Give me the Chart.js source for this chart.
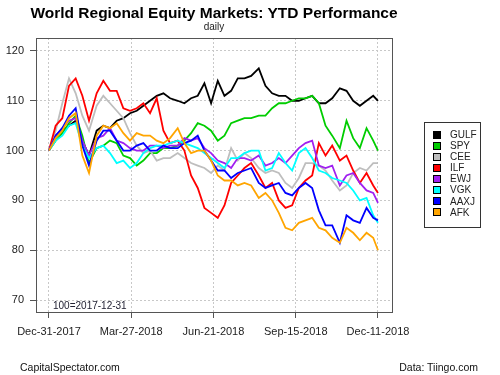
<!DOCTYPE html>
<html>
<head>
<meta charset="utf-8">
<script src="https://cdn.jsdelivr.net/npm/chart.js@4.4.1/dist/chart.umd.min.js"></script>
<style>
  body { margin: 0; background: #fff; font-family: "Liberation Sans", Arial, sans-serif; }
  #wrap { position: relative; width: 500px; height: 375px; }
  #chart { position: absolute; left: 0; top: 0; }
  .title { position: absolute; left: 0; width: 428px; top: 4px; text-align: center; white-space: nowrap; font-weight: bold; font-size: 15.5px; color: #000; }
  .sub { position: absolute; left: 0; width: 428px; top: 21px; text-align: center; font-size: 10px; color: #222; }
  .base { position: absolute; left: 53px; top: 300px; font-size: 10px; color: #223; }
  .foot { position: absolute; top: 361px; font-size: 10.5px; color: #111; }
  #legend { position: absolute; left: 424px; top: 122px; width: 57px; height: 106px; border: 1px solid #333; box-sizing: border-box; padding-top: 6px; }
  #legend div { position: relative; height: 11.1px; line-height: 11.1px; font-size: 10px; color: #222; }
  #legend span.sq { position: absolute; left: 8px; top: 1.5px; width: 6px; height: 6px; border: 1px solid #000; }
  #legend span.lb { position: absolute; left: 25px; top: 0; }
</style>
</head>
<body>
<div id="wrap">
  <canvas id="chart" width="500" height="375"></canvas>
  <div class="title">World Regional Equity Markets: YTD Performance</div>
  <div class="sub">daily</div>
  <div class="base">100=2017-12-31</div>
  <div id="legend"></div>
  <div class="foot" style="left:20px">CapitalSpectator.com</div>
  <div class="foot" style="right:22px">Data: Tiingo.com</div>
</div>
<script>
// days since 2017-12-31 (about one point per week)
const days = [0, 7, 14, 21, 28, 35, 42, 50, 57, 64, 71, 78, 85, 92, 99, 106, 113, 120, 127, 135,
  142, 149, 156, 163, 170, 177, 184, 191, 198, 205, 212, 220, 227, 234, 241, 248, 255, 262, 269, 276,
  283, 290, 297, 305, 312, 319, 326, 333, 340, 345];

const gulf = [100, 103, 104, 105, 106, 102, 99, 104, 105, 104.5, 106, 106.5, 107.5, 108, 109, 110, 111, 111.5, 110.5, 110,
  109.5, 110.5, 111, 113.5, 109.5, 114, 111, 112, 114.5, 114.5, 115, 116.5, 113, 111.5, 111, 111, 110, 110, 110.5, 111,
  109.5, 109.5, 110.5, 112.5, 112, 110, 109, 110, 111, 110];
const spy = [100, 102, 103.5, 105.5, 107, 103, 97.5, 100.5, 101, 102, 101.5, 99, 98.5, 97, 98, 99.5, 99.5, 100.5, 100.5, 101,
  102, 103.5, 105.5, 105, 104, 102, 103, 105.5, 106, 106.5, 106.5, 107, 107, 108.5, 109.5, 109.5, 110, 110.5, 110.5, 111,
  109.5, 105, 103, 100.5, 106, 102.5, 100.5, 104.5, 102, 100];
const cee = [100, 104, 109.5, 114.5, 111.5, 107, 104, 109, 111, 109.5, 108, 106.5, 103.5, 101, 99.5, 100, 98, 98.5, 98.5, 99.5,
  98.5, 97.5, 97, 96.5, 95.5, 97, 96, 100.5, 98, 99.5, 98.5, 96.5, 95.5, 96, 95.5, 93.5, 92.5, 94.5, 97.5, 97.5,
  97, 96, 94, 92, 93, 95.5, 96.5, 96, 97.5, 97.5];
const ilf = [100, 105, 106.5, 113, 114.5, 111, 106, 111.5, 114, 112, 112, 108.5, 108, 108.5, 109.5, 107.5, 110.5, 104, 101.5, 102,
  100, 95, 92.5, 88.5, 87.5, 86.5, 89, 93.5, 95, 96.5, 97.5, 95, 92.5, 93.5, 90, 88.5, 89, 92.5, 94, 95,
  101.5, 99, 101, 98, 99, 96, 93.5, 95.5, 93, 91.5];
const ewj = [100, 103, 104.5, 106, 106.5, 102, 99, 102.5, 103, 104.5, 102, 101.5, 100.5, 100, 100, 101, 101, 100.5, 101, 101,
  102.5, 102, 102.5, 100.5, 99.5, 98, 97.5, 96.5, 98.5, 98.5, 98, 99, 97, 97.5, 98.5, 97.5, 99, 100.5, 101.5, 102,
  97, 96.5, 97, 93, 95, 95.5, 93.5, 92, 91.5, 89.5];
const vgk = [100, 102, 103, 105, 105.5, 101, 98.5, 100.5, 101, 99.5, 97.5, 98, 96.5, 97.5, 99.5, 100.5, 101, 101, 101.5, 102,
  101.5, 101, 100.5, 99.5, 98.5, 97.5, 96.5, 98.5, 98.5, 99.5, 100, 100, 96, 96.5, 99.5, 97.5, 96, 99.5, 100.5, 98.5,
  96, 95.5, 94.5, 94, 93.5, 92, 90, 90.5, 87, 85.5];
const aaxj = [100, 103, 104.5, 107, 108.5, 101, 97, 102, 104, 104, 102, 100, 100, 101, 101.5, 100, 100, 101, 100.5, 100.5,
  101.5, 102, 103, 100, 98, 96, 96, 94.5, 95.5, 96, 96.5, 93.5, 92.5, 93, 93.5, 91.5, 91, 92.5, 93.5, 92.5,
  88, 85, 85, 81.5, 87, 86, 85.5, 88.5, 86.5, 86];
const afk = [100, 102.5, 104, 106.5, 107.5, 99, 95.5, 103, 105, 104.5, 105.5, 103.5, 102, 103.5, 103, 103, 102, 101.5, 102.5, 104.5,
  101.5, 99.5, 100, 100, 98, 95, 94, 94, 93, 93.5, 93, 90.5, 91.5, 90, 87.5, 84.5, 84, 85.5, 86, 86.5,
  84.5, 84, 82.5, 81.5, 84.5, 83.5, 82, 83.5, 82.5, 80];

const names = ['GULF', 'SPY', 'CEE', 'ILF', 'EWJ', 'VGK', 'AAXJ', 'AFK'];
const colors = ['#000000', '#00cd00', '#bebebe', '#ff0000', '#a020f0', '#00ffff', '#0000ff', '#ffa500'];
const series = [gulf, spy, cee, ilf, ewj, vgk, aaxj, afk];

const yTicks = [70, 80, 90, 100, 110, 120];
const xTickDays = [0, 86.25, 172.5, 258.75, 345];
const xTickLabels = ['Dec-31-2017', 'Mar-27-2018', 'Jun-21-2018', 'Sep-15-2018', 'Dec-11-2018'];

// legend
const leg = document.getElementById('legend');
names.forEach((n, i) => {
  const row = document.createElement('div');
  row.innerHTML = '<span class="sq" style="background:' + colors[i] + '"></span><span class="lb">' + n + '</span>';
  leg.appendChild(row);
});

const boxPlugin = {
  id: 'box',
  afterDraw(chart) {
    const a = chart.chartArea, ctx = chart.ctx;
    ctx.save();
    ctx.strokeStyle = '#555';
    ctx.lineWidth = 1;
    ctx.strokeRect(Math.round(a.left) + 0.5, Math.round(a.top) + 0.5, Math.round(a.right - a.left), Math.round(a.bottom - a.top));
    ctx.restore();
  }
};

new Chart(document.getElementById('chart'), {
  type: 'line',
  data: {
    datasets: series.map((s, i) => ({
      label: names[i],
      data: s.map((v, j) => ({ x: days[j], y: v })),
      borderColor: colors[i],
      backgroundColor: colors[i],
      borderWidth: 1.8,
      pointRadius: 0,
      tension: 0,
      order: names.length - i
    }))
  },
  options: {
    responsive: false,
    animation: false,
    devicePixelRatio: 1,
    layout: { padding: { left: 0, top: 38, right: 108, bottom: 0 } },
    plugins: { legend: { display: false }, tooltip: { enabled: false } },
    scales: {
      x: {
        type: 'linear',
        min: -13.6,
        max: 359.7,
        afterFit: (s) => { s.height = 63; },
        afterBuildTicks: (s) => { s.ticks = xTickDays.map(v => ({ value: v })); },
        ticks: {
          callback: (v) => { const k = xTickDays.indexOf(v); return k >= 0 ? xTickLabels[k] : ''; },
          maxRotation: 0, autoSkip: false, padding: 7,
          color: '#222', font: { family: 'Liberation Sans', size: 11 }
        },
        grid: { color: '#c8c8c8', tickColor: '#555', tickLength: 6, tickBorderDash: [] },
        border: { display: false, dash: [2, 2] }
      },
      y: {
        min: 67.6,
        max: 122.6,
        afterFit: (s) => { s.width = 36; },
        afterBuildTicks: (s) => { s.ticks = yTicks.map(v => ({ value: v })); },
        ticks: { padding: 6, color: '#222', font: { family: 'Liberation Sans', size: 11 } },
        grid: { color: '#c8c8c8', tickColor: '#555', tickLength: 6, tickBorderDash: [] },
        border: { display: false, dash: [2, 2] }
      }
    }
  },
  plugins: [boxPlugin]
});
</script>
</body>
</html>
